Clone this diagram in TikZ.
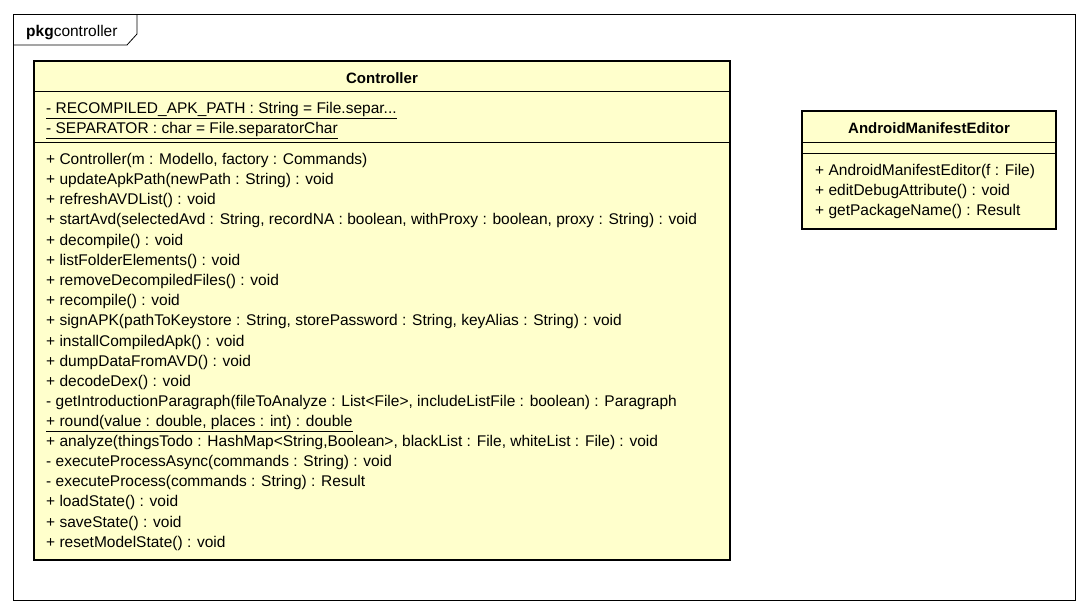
\documentclass[tikz,border=0pt]{standalone}
\usepackage{fontspec}
\setmainfont{Liberation Sans}
\definecolor{classfill}{HTML}{FFFFCC}
\begin{document}
\begin{tikzpicture}[x=1pt,y=-1pt,
  member/.style={anchor=base west,inner sep=0pt,font=\fontsize{15.5}{17}\selectfont},
  title/.style={anchor=base,inner sep=0pt,font=\fontsize{15}{17}\selectfont\bfseries},
  classbox/.style={draw,line width=2.6pt,fill=classfill},
  sep/.style={line width=1pt}]
\useasboundingbox (0,0) rectangle (1088,613);
% package frame
\draw[line width=0.8pt] (13,14) rectangle (1075,600);
\draw[line width=0.8pt] (13,45) -- (127,45) -- (137,34) -- (137,14);
\node[member] (pkg) at (26,36) {\textbf{pkg}controller};
% class Controller
\draw[classbox] (34,61) rectangle (730,560);
\draw[sep] (34,91) -- (730,91);
\draw[sep] (34,142) -- (730,142);
\node[title] (ctrlname) at (382,83.5) {Controller};
\node[member] (a1) at (46,113.5) {\underline{- RECOMPILED\_APK\_PATH : String = File.separ...}};
\node[member] (a2) at (46,133.5) {\underline{- SEPARATOR : char = File.separatorChar}};
\node[member] (o1) at (46,164.5) {+ Controller(m : Modello, factory : Commands)};
\node[member] (o2) at (46,184.5) {+ updateApkPath(newPath : String) : void};
\node[member] (o3) at (46,204.5) {+ refreshAVDList() : void};
\node[member] (o4) at (46,224.5) {+ startAvd(selectedAvd : String, recordNA : boolean, withProxy : boolean, proxy : String) : void};
\node[member] (o5) at (46,245.5) {+ decompile() : void};
\node[member] (o6) at (46,265.5) {+ listFolderElements() : void};
\node[member] (o7) at (46,285.5) {+ removeDecompiledFiles() : void};
\node[member] (o8) at (46,305.5) {+ recompile() : void};
\node[member] (o9) at (46,325.5) {+ signAPK(pathToKeystore : String, storePassword : String, keyAlias : String) : void};
\node[member] (o10) at (46,346.5) {+ installCompiledApk() : void};
\node[member] (o11) at (46,366.5) {+ dumpDataFromAVD() : void};
\node[member] (o12) at (46,386.5) {+ decodeDex() : void};
\node[member] (o13) at (46,406.5) {- getIntroductionParagraph(fileToAnalyze : List<File>, includeListFile : boolean) : Paragraph};
\node[member] (o14) at (46,426.5) {\underline{+ round(value : double, places : int) : double}};
\node[member] (o15) at (46,446.5) {+ analyze(thingsTodo : HashMap<String,Boolean>, blackList : File, whiteList : File) : void};
\node[member] (o16) at (46,466.5) {- executeProcessAsync(commands : String) : void};
\node[member] (o17) at (46,486.5) {- executeProcess(commands : String) : Result};
\node[member] (o18) at (46,506.5) {+ loadState() : void};
\node[member] (o19) at (46,527.5) {+ saveState() : void};
\node[member] (o20) at (46,547.5) {+ resetModelState() : void};
% class AndroidManifestEditor
\draw[classbox] (802,111) rectangle (1056,229);
\draw[sep] (802,142) -- (1056,142);
\draw[sep] (802,153) -- (1056,153);
\node[title] (ameName) at (929,133.5) {AndroidManifestEditor};
\node[member] (m1) at (815,175.5) {+ AndroidManifestEditor(f : File)};
\node[member] (m2) at (815,195.5) {+ editDebugAttribute() : void};
\node[member] (m3) at (815,215.5) {+ getPackageName() : Result};
\end{tikzpicture}
\end{document}
